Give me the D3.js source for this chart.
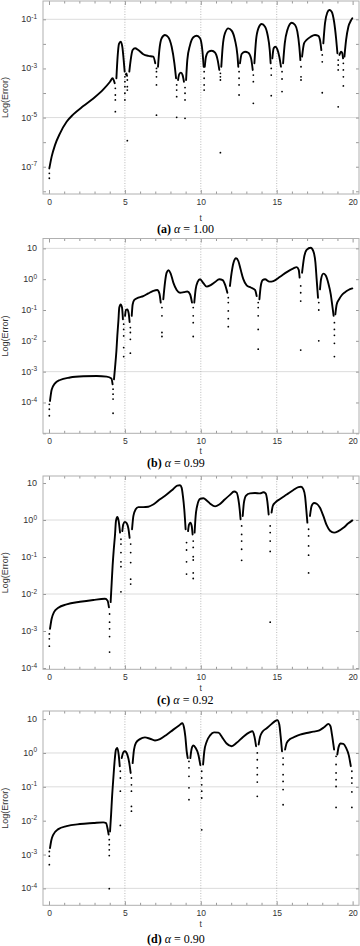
<!DOCTYPE html>
<html><head><meta charset="utf-8">
<script src="https://cdn.jsdelivr.net/npm/d3@7"></script>
<style>body{margin:0;background:#fff}svg{display:block}</style>
</head><body><svg id="c" width="360" height="946"></svg>
<script>
// ---- data: t and log10(Error) ----
const xTicks = [0, 5, 10, 15, 20];
const alphas = ["1.00", "0.99", "0.92", "0.90"];
const letters = ["a", "b", "c", "d"];

const yTicksA = [-1, -3, -5, -7];
const gridA = [-1, -5];
const yTicksB = [1, 0, -1, -2, -3, -4];
const gridB = [1, -3];
const yTicksC = [1, 0, -1, -2, -3, -4];
const gridC = [0, -2];
const yTicksD = [1, 0, -1, -2, -3, -4];
const gridD = [0, -1, -4];

const archesA = [
 [[0.022,-7.07],[0.175,-6.59],[0.395,-6.12],[0.725,-5.64],[1.16,-5.17],[1.60,-4.87],[2.26,-4.53],[2.92,-4.22],[3.58,-3.85],[4.02,-3.54],[4.19,-3.40],[4.33,-3.60]],
 [[4.44,-3.40],[4.52,-2.52],[4.61,-2.0],[4.72,-1.91],[4.83,-2.12],[4.92,-2.66],[4.985,-3.13]],
 [[5.06,-3.25],[5.10,-3.20],[5.14,-3.30]],
 [[5.29,-3.13],[5.38,-2.66],[5.51,-2.25],[5.67,-2.18],[5.88,-2.25],[6.21,-2.42],[6.54,-2.49],[6.87,-2.52],[7.0,-2.79]],
 [[7.18,-2.93],[7.27,-2.25],[7.42,-1.77],[7.64,-1.64],[7.86,-1.73],[8.08,-2.12],[8.26,-2.79],[8.37,-3.40]],
 [[8.50,-3.47],[8.58,-3.23],[8.69,-3.17],[8.80,-3.27],[8.89,-3.54]],
 [[9.03,-3.47],[9.11,-2.66],[9.29,-2.05],[9.51,-1.73],[9.73,-1.67],[9.95,-1.77],[10.1,-2.25],[10.19,-2.93]],
 [[10.26,-2.93],[10.34,-2.52],[10.50,-2.32],[10.72,-2.28],[10.94,-2.36],[11.11,-2.66],[11.22,-3.06]],
 [[11.35,-2.93],[11.44,-2.12],[11.59,-1.57],[11.81,-1.37],[12.03,-1.46],[12.25,-1.84],[12.41,-2.45],[12.47,-2.93]],
 [[12.58,-2.79],[12.69,-2.41],[12.91,-2.32],[13.13,-2.36],[13.31,-2.59],[13.42,-3.06]],
 [[13.53,-2.79],[13.64,-1.84],[13.79,-1.37],[14.01,-1.19],[14.23,-1.30],[14.40,-1.64],[14.54,-2.25],[14.60,-2.79]],
 [[14.71,-2.59],[14.80,-2.18],[14.91,-2.12],[15.04,-2.22],[15.17,-2.52],[15.28,-2.93]],
 [[15.42,-2.79],[15.53,-1.98],[15.70,-1.44],[15.99,-1.14],[16.21,-1.23],[16.36,-1.50],[16.49,-2.12],[16.56,-2.66]],
 [[16.67,-2.52],[16.80,-1.98],[16.97,-1.84],[17.24,-1.71],[17.52,-1.64],[17.74,-1.67],[17.85,-1.84],[17.94,-2.25]],
 [[18.07,-1.98],[18.18,-1.16],[18.33,-0.73],[18.47,-0.62],[18.62,-0.69],[18.78,-1.10],[18.91,-1.77],[19.0,-2.38]],
 [[19.13,-2.45],[19.24,-2.32],[19.32,-2.38],[19.37,-2.59]],
 [[19.46,-2.52],[19.57,-1.84],[19.72,-1.30],[19.88,-1.06],[19.98,-0.96]]
];
const dipsA = [
 [0.022,-7.27],[0.022,-7.47],
 [4.37,-3.81],[4.37,-4.08],[4.37,-4.28],[4.37,-4.76],
 [5.0,-3.34],[5.0,-3.54],[5.0,-3.74],[5.0,-4.01],[5.0,-4.28],
 [5.16,-3.47],[5.16,-3.74],[5.16,-3.88],[5.16,-5.94],
 [7.08,-3.0],[7.08,-3.13],[7.08,-3.34],[7.08,-3.67],[7.08,-4.9],
 [8.41,-3.67],[8.41,-3.88],[8.41,-4.15],[8.41,-4.99],
 [8.96,-3.78],[8.96,-4.01],[8.96,-4.28],[8.96,-5.03],
 [10.22,-3.13],[10.22,-3.40],[10.22,-3.67],[10.22,-3.88],
 [11.29,-3.20],[11.29,-3.34],[11.29,-3.47],[11.29,-6.43],
 [12.52,-3.13],[12.52,-3.40],[12.52,-3.67],[12.52,-4.08],
 [13.46,-3.27],[13.46,-3.54],[13.46,-4.42],
 [14.64,-3.0],[14.64,-3.27],[14.64,-4.11],
 [15.35,-3.13],[15.35,-3.43],[15.35,-3.94],
 [16.6,-2.93],[16.6,-3.34],[16.6,-3.47],
 [18.0,-2.45],[18.0,-2.73],[18.0,-3.99],
 [19.05,-2.66],[19.05,-2.86],[19.05,-3.06],[19.05,-4.56],
 [19.39,-2.79],[19.39,-3.06],[19.39,-3.34],[19.39,-3.71]
];

const archesB = [
 [[0.066,-3.95],[0.175,-3.59],[0.395,-3.38],[0.725,-3.27],[1.38,-3.19],[2.26,-3.15],[3.14,-3.14],[3.80,-3.16],[4.11,-3.22],[4.19,-3.41]],
 [[4.28,-3.25],[4.35,-2.87],[4.44,-2.33],[4.50,-1.84],[4.57,-1.36],[4.63,-0.92],[4.72,-0.82],[4.81,-0.92],[4.87,-1.30]],
 [[5.01,-1.19],[5.07,-1.0],[5.16,-0.98],[5.25,-1.11],[5.31,-1.39]],
 [[5.45,-1.19],[5.51,-0.82],[5.62,-0.67],[5.88,-0.60],[6.21,-0.55],[6.54,-0.46],[6.87,-0.38],[7.13,-0.35],[7.27,-0.46],[7.36,-0.76]],
 [[7.53,-0.65],[7.64,-0.11],[7.75,0.21],[7.88,0.29],[8.01,0.19],[8.19,-0.11],[8.41,-0.35],[8.63,-0.44],[8.89,-0.42],[9.11,-0.40],[9.29,-0.49],[9.42,-0.76]],
 [[9.57,-0.76],[9.66,-0.33],[9.79,-0.09],[9.95,0.0],[10.17,-0.13],[10.39,-0.24],[10.65,-0.19],[10.94,-0.09],[11.22,0.0],[11.44,-0.03],[11.59,-0.17],[11.75,-0.44]],
 [[11.92,-0.22],[12.03,0.21],[12.14,0.51],[12.32,0.68],[12.47,0.59],[12.62,0.32],[12.80,0.0],[13.02,-0.20],[13.29,-0.27],[13.57,-0.35],[13.68,-0.55]],
 [[13.86,-0.65],[13.95,-0.22],[14.08,-0.03],[14.23,0.0],[14.52,-0.08],[14.78,-0.06],[15.22,0.08],[15.66,0.23],[16.10,0.35],[16.31,0.39],[16.45,0.30],[16.51,0.05]],
 [[16.67,0.21],[16.80,0.70],[16.97,0.95],[17.24,1.02],[17.41,0.91],[17.55,0.54],[17.63,0.0],[17.72,-0.60]],
 [[17.85,-0.33],[17.92,0.0],[18.07,0.18],[18.23,0.12],[18.40,-0.13],[18.56,-0.49],[18.67,-0.89],[18.75,-1.19]],
 [[18.86,-1.14],[18.95,-0.82],[19.11,-0.65],[19.28,-0.52],[19.50,-0.42],[19.72,-0.35],[19.98,-0.30]]
];
const dipsB = [
 [0.022,-4.06],[0.022,-4.22],[0.022,-4.43],
 [4.22,-3.57],[4.22,-3.73],[4.22,-3.89],[4.22,-4.35],
 [4.92,-1.46],[4.92,-1.63],[4.92,-1.84],[4.92,-2.22],[4.92,-2.51],
 [5.36,-1.57],[5.36,-1.73],[5.36,-1.95],[5.36,-2.40],
 [7.44,-0.92],[7.44,-1.19],[7.44,-1.73],[7.44,-1.86],
 [9.5,-0.92],[9.5,-1.19],[9.5,-1.41],[9.5,-1.86],
 [11.81,-0.60],[11.81,-0.76],[11.81,-1.03],[11.81,-1.28],[11.81,-1.54],
 [13.78,-0.76],[13.78,-0.92],[13.78,-1.19],[13.78,-1.63],[13.78,-2.27],
 [16.58,-0.22],[16.58,-0.44],[16.58,-0.71],[16.58,-2.30],
 [17.77,-0.76],[17.77,-1.0],[17.77,-2.0],
 [18.8,-1.41],[18.8,-1.63],[18.8,-1.82],[18.8,-2.08],[18.8,-2.51]
];

const archesC = [
 [[0.066,-2.94],[0.175,-2.67],[0.33,-2.49],[0.615,-2.37],[1.16,-2.28],[2.04,-2.21],[2.92,-2.16],[3.69,-2.13],[3.86,-2.18],[3.95,-2.36]],
 [[4.06,-2.22],[4.13,-1.69],[4.19,-1.24],[4.26,-0.83],[4.35,-0.39],[4.41,-0.03],[4.50,0.08],[4.59,-0.03],[4.68,-0.34]],
 [[4.83,-0.30],[4.89,-0.12],[5.0,-0.05],[5.12,-0.09],[5.23,-0.23],[5.31,-0.48]],
 [[5.47,-0.25],[5.56,0.11],[5.71,0.29],[5.88,0.35],[6.21,0.35],[6.54,0.36],[6.87,0.42],[7.31,0.56],[7.75,0.69],[8.19,0.84],[8.45,0.93],[8.63,0.94],[8.74,0.87],[8.82,0.65],[8.91,0.29],[9.0,-0.25]],
 [[9.16,-0.30],[9.22,-0.13],[9.31,-0.07],[9.40,-0.16],[9.46,-0.39]],
 [[9.59,-0.34],[9.66,0.11],[9.77,0.40],[9.95,0.57],[10.17,0.59],[10.39,0.53],[10.65,0.43],[10.94,0.37],[11.22,0.42],[11.59,0.56],[11.92,0.68],[12.19,0.77],[12.36,0.74],[12.47,0.57],[12.56,0.29],[12.62,0.02]],
 [[12.76,0.11],[12.84,0.47],[12.98,0.66],[13.24,0.72],[13.57,0.73],[13.90,0.72],[14.12,0.75],[14.27,0.72],[14.38,0.51],[14.47,0.15]],
 [[14.66,0.20],[14.74,0.38],[14.90,0.47],[15.22,0.57],[15.66,0.69],[16.10,0.81],[16.43,0.89],[16.60,0.90],[16.76,0.83],[16.87,0.63],[16.95,0.27],[17.02,-0.07]],
 [[17.19,0.11],[17.30,0.38],[17.46,0.46],[17.63,0.44],[17.85,0.33],[18.07,0.11],[18.29,-0.14],[18.51,-0.29],[18.78,-0.34],[19.06,-0.30],[19.39,-0.21],[19.72,-0.09],[19.98,-0.01]]
];
const dipsC = [
 [0.022,-3.08],[0.022,-3.21],[0.022,-3.41],
 [3.99,-2.54],[3.99,-2.76],[3.99,-2.94],[3.99,-3.15],[3.99,-3.57],
 [4.74,-0.52],[4.74,-0.65],[4.74,-0.88],[4.74,-1.13],[4.74,-1.26],[4.74,-1.94],
 [5.38,-0.65],[5.38,-0.88],[5.38,-1.15],[5.38,-1.60],[5.38,-1.73],
 [9.06,-0.61],[9.06,-0.81],[9.06,-1.13],[9.06,-1.46],
 [9.5,-0.57],[9.5,-0.74],[9.5,-0.99],[9.5,-1.08],[9.5,-1.43],[9.5,-1.58],
 [12.69,-0.16],[12.69,-0.39],[12.69,-0.57],[12.69,-0.79],[12.69,-1.09],
 [14.57,-0.16],[14.57,-0.34],[14.57,-0.57],[14.57,-0.85],[14.57,-2.76],
 [17.1,-0.25],[17.1,-0.43],[17.1,-0.70],[17.1,-0.95],[17.1,-1.43]
];

const archesD = [
 [[0.066,-2.81],[0.154,-2.58],[0.285,-2.41],[0.615,-2.25],[1.16,-2.16],[2.04,-2.10],[2.92,-2.07],[3.58,-2.05],[3.76,-2.07],[3.86,-2.24],[3.93,-2.41]],
 [[4.02,-2.32],[4.09,-1.82],[4.15,-1.33],[4.24,-0.74],[4.33,-0.20],[4.41,0.10],[4.50,0.15],[4.59,-0.05],[4.66,-0.39]],
 [[4.79,-0.15],[4.90,0.02],[5.0,0.05],[5.16,-0.05],[5.29,-0.30],[5.38,-0.59]],
 [[5.51,-0.30],[5.60,0.10],[5.73,0.30],[5.99,0.41],[6.32,0.46],[6.65,0.42],[6.98,0.37],[7.31,0.41],[7.75,0.54],[8.19,0.69],[8.59,0.82],[8.78,0.88],[8.89,0.76],[8.98,0.49],[9.07,0.05],[9.14,-0.15]],
 [[9.31,-0.15],[9.40,0.13],[9.51,0.22],[9.66,0.15],[9.84,-0.05],[9.97,-0.36]],
 [[10.15,-0.34],[10.23,0.05],[10.39,0.34],[10.61,0.52],[10.87,0.61],[11.16,0.60],[11.44,0.44],[11.70,0.28],[12.03,0.20],[12.36,0.30],[12.80,0.48],[13.20,0.61],[13.39,0.64],[13.53,0.49],[13.64,0.20]],
 [[13.81,0.25],[13.90,0.47],[14.05,0.62],[14.34,0.73],[14.67,0.86],[14.89,0.94],[15.04,0.97],[15.17,0.84],[15.26,0.49],[15.35,0.05]],
 [[15.55,0.10],[15.66,0.30],[15.88,0.41],[16.21,0.48],[16.54,0.54],[16.97,0.59],[17.41,0.63],[17.81,0.67],[18.12,0.76],[18.41,0.86],[18.54,0.79],[18.64,0.54],[18.78,0.10]],
 [[18.99,-0.05],[19.08,0.18],[19.21,0.28],[19.39,0.27],[19.57,0.15],[19.75,-0.07],[19.88,-0.39]]
];
const dipsD = [
 [0.022,-2.91],[0.022,-3.05],[0.022,-3.30],
 [3.97,-2.56],[3.97,-2.71],[3.97,-2.86],[3.97,-3.03],[3.97,-4.01],
 [4.7,-0.54],[4.7,-0.74],[4.7,-1.13],[4.7,-2.14],
 [5.43,-0.74],[5.43,-0.94],[5.43,-1.13],[5.43,-1.58],[5.43,-1.72],
 [9.22,-0.25],[9.22,-0.44],[9.22,-0.69],[9.22,-1.03],[9.22,-1.38],
 [10.06,-0.54],[10.06,-0.74],[10.06,-0.94],[10.06,-1.13],[10.06,-1.33],[10.06,-2.27],
 [13.72,0.0],[13.72,-0.20],[13.72,-0.44],[13.72,-0.64],[13.72,-0.86],[13.72,-1.28],
 [15.42,-0.15],[15.42,-0.34],[15.42,-0.64],[15.42,-0.84],[15.42,-1.08],[15.42,-1.53],
 [18.91,-0.10],[18.91,-0.34],[18.91,-0.59],[18.91,-0.79],[18.91,-0.99],[18.91,-1.61],
 [19.95,-0.54],[19.95,-0.74],[19.95,-0.89],[19.95,-1.15],[19.95,-1.61]
];

// ---- layout ----
const L = 43, R = 359;
const panels = [
 {arches:archesA, dips:dipsA, yTicks:yTicksA, grid:gridA, top:1, bottom:194, hi:-0.255, lo:-8.11, labY:205, tY:221, capY:233, capX:157},
 {arches:archesB, dips:dipsB, yTicks:yTicksB, grid:gridB, top:238.5, bottom:433.3, hi:1.32, lo:-5.0, labY:443.5, tY:454, capY:467, capX:147},
 {arches:archesC, dips:dipsC, yTicks:yTicksC, grid:gridC, top:476, bottom:669.3, hi:1.19, lo:-4.035, labY:680, tY:691, capY:704, capX:157},
 {arches:archesD, dips:dipsD, yTicks:yTicksD, grid:gridD, top:711, bottom:905.3, hi:1.24, lo:-4.50, labY:916, tY:927, capY:943, capX:147}
];

const svg = d3.select('#c');
const x = d3.scaleLinear().domain([-0.395, 20.42]).range([L, R]);
const sansFont = "'Liberation Sans', Arial, sans-serif";
const serifFont = "'Liberation Serif', 'Times New Roman', serif";

panels.forEach((p, i) => {
  const y = d3.scaleLinear().domain([p.lo, p.hi]).range([p.bottom, p.top]);
  const g = svg.append('g');

  // horizontal grid
  g.selectAll('line.hg').data(p.grid).join('line').attr('class','hg')
    .attr('x1', L).attr('x2', R).attr('y1', d => y(d)).attr('y2', d => y(d))
    .attr('stroke', '#dcdcdc').attr('stroke-width', 1);
  // vertical dotted grid
  g.selectAll('line.vg').data([5, 10, 15]).join('line').attr('class','vg')
    .attr('x1', d => x(d)).attr('x2', d => x(d)).attr('y1', p.top).attr('y2', p.bottom)
    .attr('stroke', '#a8a8a8').attr('stroke-width', 0.8).attr('stroke-dasharray', '1,1.6');

  // axes (ticks inward)
  const minor = d3.range(0, 21);
  const bx = g.append('g').attr('transform', `translate(0,${p.bottom})`)
    .call(d3.axisBottom(x).tickValues(minor).tickSize(-2.5)
      .tickPadding(p.labY - p.bottom - 6)
      .tickFormat(d => xTicks.includes(d) ? d : ''));
  bx.select('.domain').remove();
  bx.selectAll('.tick line').attr('stroke', '#999').attr('y2', d => xTicks.includes(d) ? -4 : -2.5);
  bx.selectAll('.tick text').attr('font-family', sansFont).attr('font-size', 8.5).attr('fill', '#333');
  const tx = g.append('g').attr('transform', `translate(0,${p.top})`)
    .call(d3.axisTop(x).tickValues(minor).tickSize(-2.5).tickFormat(''));
  tx.select('.domain').remove();
  tx.selectAll('.tick line').attr('stroke', '#999').attr('y2', d => xTicks.includes(d) ? 4 : 2.5);

  const decades = d3.range(Math.ceil(p.lo), Math.floor(p.hi) + 1);
  const ly = g.append('g').attr('transform', `translate(${L},0)`)
    .call(d3.axisLeft(y).tickValues(decades).tickSize(-3).tickFormat(''));
  ly.select('.domain').remove();
  ly.selectAll('.tick line').attr('stroke', '#999');
  const ry = g.append('g').attr('transform', `translate(${R},0)`)
    .call(d3.axisRight(y).tickValues(decades).tickSize(-3).tickFormat(''));
  ry.select('.domain').remove();
  ry.selectAll('.tick line').attr('stroke', '#999');

  // frame
  g.append('rect').attr('x', L).attr('y', p.top).attr('width', R - L).attr('height', p.bottom - p.top)
    .attr('fill', 'none').attr('stroke', '#b0b0b0').attr('stroke-width', 1);

  // y tick labels 10^n
  const yl = g.selectAll('text.yl').data(p.yTicks).join('text').attr('class','yl')
    .attr('x', 37).attr('y', d => y(d) + 3)
    .attr('text-anchor', 'end').attr('font-family', sansFont).attr('font-size', 9).attr('fill', '#333');
  yl.append('tspan').text('10');
  yl.filter(d => d !== 1).append('tspan').attr('dy', -3.5).attr('font-size', 6.5).text(d => d < 0 ? '-' + Math.abs(d) : String(d));

  // y title
  g.append('text').attr('transform', `translate(8,${(p.top + p.bottom) / 2}) rotate(-90)`)
    .attr('text-anchor', 'middle').attr('font-family', sansFont).attr('font-size', 9).attr('fill', '#333')
    .text('Log(Error)');
  // x title
  g.append('text').attr('x', x(10)).attr('y', p.tY).attr('text-anchor', 'middle')
    .attr('font-family', sansFont).attr('font-size', 8.5).attr('fill', '#333').text('t');

  // curve
  const line = d3.line().x(d => x(d[0])).y(d => y(d[1])).curve(d3.curveMonotoneX);
  g.selectAll('path.arch').data(p.arches).join('path').attr('class','arch')
    .attr('d', line).attr('fill', 'none').attr('stroke', '#000').attr('stroke-width', 1.9)
    .attr('stroke-linecap', 'round').attr('stroke-linejoin', 'round');
  g.selectAll('circle.dip').data(p.dips).join('circle').attr('class','dip')
    .attr('cx', d => x(d[0])).attr('cy', d => y(d[1])).attr('r', 0.9).attr('fill', '#000');

  // caption
  const cap = g.append('text').attr('x', p.capX).attr('y', p.capY)
    .attr('font-family', serifFont).attr('font-size', 12).attr('fill', '#000');
  cap.append('tspan').attr('font-weight', 'bold').text('(' + letters[i] + ')');
  cap.append('tspan').text(' ');
  cap.append('tspan').attr('font-style', 'italic').text('α');
  cap.append('tspan').text(' = ' + alphas[i]);
});
</script></body></html>
